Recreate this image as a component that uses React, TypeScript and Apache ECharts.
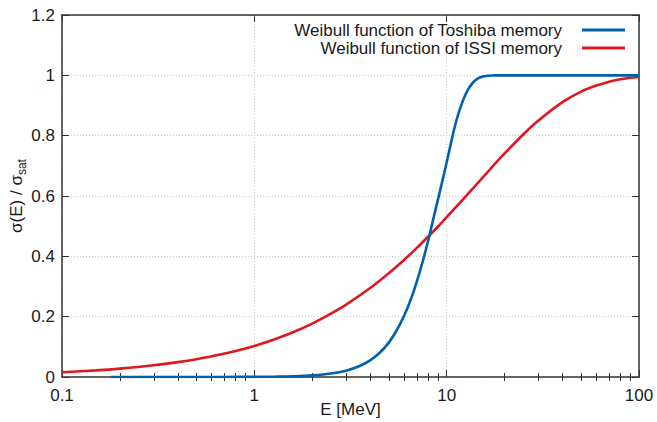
import React, { useEffect, useRef } from "react";
import * as echarts from "echarts";

// Toshiba memory: energy (MeV) and normalised cross-section
const toshibaE = [0.18, 0.3, 0.5, 0.7, 1, 1.3, 1.6, 2, 2.5, 3, 3.5, 4, 4.5, 5, 5.5, 6, 6.5, 7, 7.5, 8, 8.5, 9, 9.5, 10, 10.5, 11, 11.5, 12, 12.5, 13, 13.5, 14, 14.5, 15, 16, 17, 18, 20, 30, 50, 100];
const toshibaSigma = [0, 0, 0, 0.0002, 0.0005, 0.0012, 0.0025, 0.0054, 0.0114, 0.021, 0.0355, 0.055, 0.081, 0.114, 0.155, 0.202, 0.256, 0.317, 0.382, 0.45, 0.521, 0.587, 0.65, 0.712, 0.772, 0.828, 0.872, 0.907, 0.935, 0.956, 0.971, 0.982, 0.989, 0.994, 0.998, 0.9995, 1, 1, 1, 1, 1];

// ISSI memory
const issiE = [0.1, 0.15, 0.2, 0.3, 0.4, 0.5, 0.6, 0.8, 1, 1.3, 1.6, 2, 2.5, 3, 4, 5, 6, 7, 8, 9, 10, 12, 14, 17, 20, 25, 30, 40, 50, 60, 70, 80, 90, 100];
const issiSigma = [0.0156, 0.0219, 0.0278, 0.0388, 0.0492, 0.0591, 0.0685, 0.0864, 0.103, 0.127, 0.149, 0.177, 0.21, 0.24, 0.295, 0.344, 0.388, 0.428, 0.465, 0.498, 0.53, 0.585, 0.632, 0.692, 0.741, 0.804, 0.85, 0.911, 0.946, 0.966, 0.979, 0.987, 0.992, 0.9946];

const seriesNames = ["Weibull function of Toshiba memory", "Weibull function of ISSI memory"];
const seriesColors = ["#0060ad", "#dd181f"];

// minor tick positions on the log axis
const minorTickE = [0.2, 0.3, 0.4, 0.5, 0.6, 0.7, 0.8, 0.9, 2, 3, 4, 5, 6, 7, 8, 9, 20, 30, 40, 50, 60, 70, 80, 90];

const FONT = "'Liberation Sans', Arial, Helvetica, sans-serif";
const TEXT = "#1a1a1a";
const AXIS = "#333333";

export default function App() {
  const ref = useRef<HTMLDivElement>(null);
  useEffect(() => {
    document.body.style.margin = "0";
    const chart = echarts.init(ref.current!, null, { renderer: "svg" });
    const axisLine = { show: true, onZero: false, lineStyle: { color: AXIS, width: 1.5 } };
    const gridLine = { show: true, lineStyle: { color: "#c8c8c8", type: [1, 2], width: 1 } };
    const minorLog = minorTickE.map((v) => Math.log10(v));
    chart.setOption({
      animation: false,
      backgroundColor: "#ffffff",
      grid: { left: 62, right: 18, top: 15, bottom: 45, containLabel: false, outerBoundsMode: "none" },
      legend: {
        data: seriesNames.map((n) => ({ name: n, icon: "rect" })),
        orient: "vertical",
        right: 32,
        top: 21,
        align: "right",
        itemWidth: 43,
        itemHeight: 3,
        itemGap: 0,
        padding: 0,
        selectedMode: false,
        textStyle: { fontSize: 17, fontFamily: FONT, color: TEXT, lineHeight: 18, padding: [0, 15, 0, 0] },
      },
      xAxis: [
        {
          type: "log",
          logBase: 10,
          min: 0.1,
          max: 100,
          position: "bottom",
          axisLine,
          axisTick: { show: true, inside: true, length: 7, lineStyle: { color: AXIS, width: 1 } },
          axisLabel: { fontSize: 17, fontFamily: FONT, color: TEXT, margin: 10 },
          splitLine: gridLine,
          name: "E [MeV]",
          nameLocation: "middle",
          nameGap: 24,
          nameMoveOverlap: false,
          nameTextStyle: { fontSize: 17, fontFamily: FONT, color: TEXT },
        },
        {
          type: "log",
          logBase: 10,
          min: 0.1,
          max: 100,
          position: "top",
          axisLine,
          axisTick: { show: true, inside: true, length: 7, lineStyle: { color: AXIS, width: 1 } },
          axisLabel: { show: false },
          splitLine: { show: false },
        },
        {
          type: "value",
          min: -1,
          max: 2,
          position: "bottom",
          axisLine: { show: false },
          axisTick: { show: true, inside: true, length: 4, customValues: minorLog, lineStyle: { color: AXIS, width: 1 } },
          axisLabel: { show: false },
          splitLine: { show: false },
        },
        {
          type: "value",
          min: -1,
          max: 2,
          position: "top",
          axisLine: { show: false },
          axisTick: { show: true, inside: true, length: 4, customValues: minorLog, lineStyle: { color: AXIS, width: 1 } },
          axisLabel: { show: false },
          splitLine: { show: false },
        },
      ],
      yAxis: [
        {
          type: "value",
          min: 0,
          max: 1.2,
          interval: 0.2,
          position: "left",
          axisLine,
          axisTick: { show: true, inside: true, length: 7, lineStyle: { color: AXIS, width: 1 } },
          axisLabel: { fontSize: 17, fontFamily: FONT, color: TEXT, margin: 7 },
          splitLine: gridLine,
          name: "σ(E) / σ{sub|sat}",
          nameLocation: "middle",
          nameGap: 34,
          nameMoveOverlap: false,
          nameTextStyle: {
            fontSize: 17,
            fontFamily: FONT,
            color: TEXT,
            lineHeight: 24,
            rich: {
              sub: { fontSize: 12, fontFamily: FONT, color: TEXT, verticalAlign: "bottom", lineHeight: 24 },
            },
          },
        },
        {
          type: "value",
          min: 0,
          max: 1.2,
          interval: 0.2,
          position: "right",
          axisLine,
          axisTick: { show: true, inside: true, length: 7, lineStyle: { color: AXIS, width: 1 } },
          axisLabel: { show: false },
          splitLine: { show: false },
        },
      ],
      series: [
        {
          name: seriesNames[0],
          type: "line",
          xAxisIndex: 0,
          yAxisIndex: 0,
          data: toshibaE.map((e, i) => [e, toshibaSigma[i]]),
          symbol: "none",
          showSymbol: false,
          smooth: 0.3,
          color: seriesColors[0],
          lineStyle: { color: seriesColors[0], width: 2.6 },
          z: 3,
        },
        {
          name: seriesNames[1],
          type: "line",
          xAxisIndex: 0,
          yAxisIndex: 0,
          data: issiE.map((e, i) => [e, issiSigma[i]]),
          symbol: "none",
          showSymbol: false,
          smooth: 0.3,
          color: seriesColors[1],
          lineStyle: { color: seriesColors[1], width: 2.6 },
          z: 2,
        },
      ],
    });
    return () => chart.dispose();
  }, []);
  return <div ref={ref} style={{ width: 657, height: 422 }} />;
}
